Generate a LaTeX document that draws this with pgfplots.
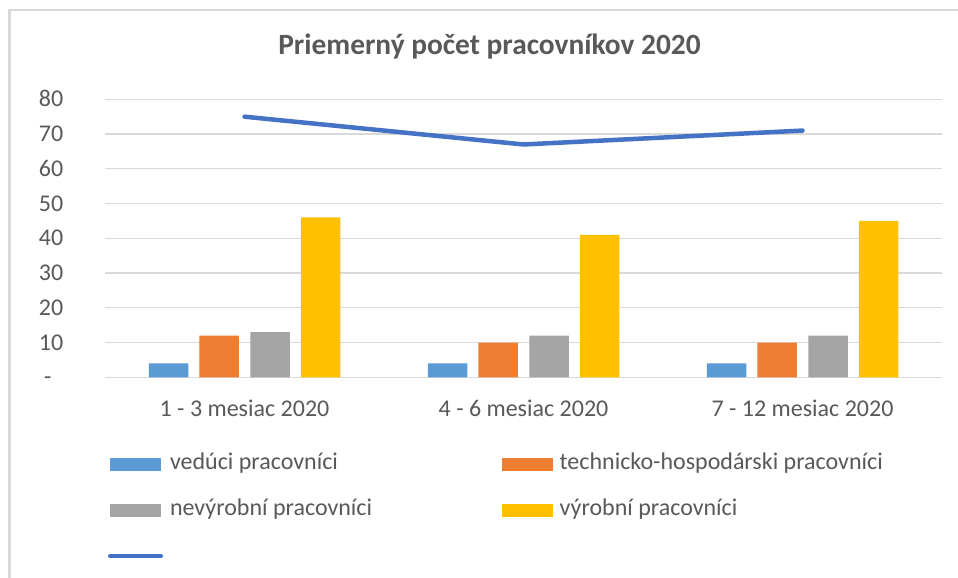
\documentclass[border=0pt]{standalone}
\usepackage{pgfplots}
\pgfplotsset{compat=1.18}
\usepackage{fontspec}
\setmainfont{Carlito}
\definecolor{cblue}{HTML}{5B9BD5}
\definecolor{corange}{HTML}{ED7D31}
\definecolor{cgray}{HTML}{A5A5A5}
\definecolor{cyellow}{HTML}{FFC000}
\definecolor{cline}{HTML}{4472C4}
\definecolor{gridc}{HTML}{D9D9D9}
\definecolor{textc}{HTML}{595959}
\definecolor{borderc}{HTML}{D9D9D9}
\begin{document}
\begin{tikzpicture}
\path[use as bounding box] (0pt,0pt) rectangle (958pt,578pt);
\clip (0pt,0pt) rectangle (958pt,578pt);
\fill[white] (0pt,0pt) rectangle (958pt,578pt);
\draw[borderc, line width=2.6pt] (9.3pt,-5pt) -- (9.3pt,567.8pt) -- (970pt,567.8pt);
\node[text=textc, font=\fontsize{29.4}{35}\selectfont\bfseries, anchor=center] at (489.5pt,531pt) {Priemerný počet pracovníkov 2020};
\begin{axis}[
  at={(105pt,200.7pt)}, anchor=south west,
  scale only axis, width=837pt, height=278pt,
  xmin=-0.5, xmax=2.5, ymin=0, ymax=80,
  axis line style={draw=none},
  major tick length=0pt,
  xtick={0,1,2},
  xticklabels={1 - 3 mesiac 2020, 4 - 6 mesiac 2020, 7 - 12 mesiac 2020},
  ytick={0,10,20,30,40,50,60,70,80},
  yticklabels={{-\kern11.8pt},10,20,30,40,50,60,70,80},
  ymajorgrids,
  major grid style={gridc, line width=1.3pt},
  tick label style={text=textc, font=\fontsize{24}{28}\selectfont},
  yticklabel style={anchor=east, inner sep=0pt, xshift=-41.5pt, text height=15.15pt, text depth=0pt},
  xticklabel style={anchor=base, inner sep=0pt, yshift=-38.7pt},
  legend columns=2,
  legend cell align=left,
  legend style={
    at={(axis description cs:0.0036,-0.279)}, anchor=north west,
    draw=none, fill=none, inner sep=0pt, outer sep=0pt,
    font=\fontsize{24}{28}\selectfont, text=textc,
    row sep=27pt,
    nodes={inner sep=0pt, outer sep=0pt, anchor=west, text height=15pt, text depth=4pt},
    /tikz/every odd column/.append style={column sep=7pt},
    /tikz/every even column/.append style={column sep=129.5pt},
  },
  legend image code/.code={\fill[#1] (0pt,-6.3pt) rectangle (51pt,6.3pt);},
]
\addplot[ybar, bar width=39.5pt, bar shift=-76pt, fill=cblue, draw=none] coordinates {(0,4) (1,4) (2,4)};
\addlegendentry{vedúci pracovníci}
\addplot[ybar, bar width=39.5pt, bar shift=-25.5pt, fill=corange, draw=none] coordinates {(0,12) (1,10) (2,10)};
\addlegendentry{technicko-hospodárski pracovníci}
\addplot[ybar, bar width=39.5pt, bar shift=25.5pt, fill=cgray, draw=none] coordinates {(0,13) (1,12) (2,12)};
\addlegendentry{nevýrobní pracovníci}
\addplot[ybar, bar width=39.5pt, bar shift=76pt, fill=cyellow, draw=none] coordinates {(0,46) (1,41) (2,45)};
\addlegendentry{výrobní pracovníci}
\addplot[sharp plot, cline, line width=4.5pt, line cap=round, line join=round, mark=none,
  legend image code/.code={\draw[cline, line width=4pt, line cap=round] (0pt,0pt) -- (51pt,0pt);}]
  coordinates {(0,75) (1,67) (2,71)};
\addlegendentry{}
\end{axis}
\end{tikzpicture}
\end{document}
